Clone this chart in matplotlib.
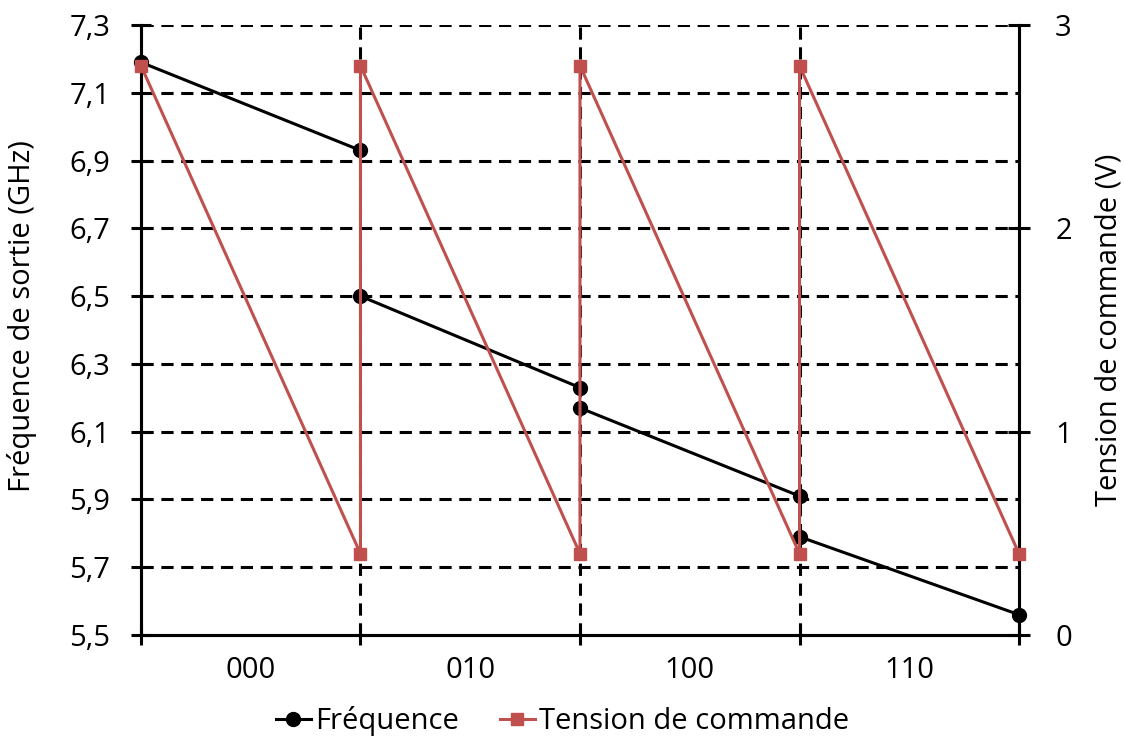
import matplotlib
matplotlib.use("Agg")
import matplotlib.pyplot as plt
from matplotlib.ticker import FixedLocator, FuncFormatter

plt.rcParams['font.family'] = ['Open Sans', 'DejaVu Sans']

# données
categories = ["000", "010", "100", "110"]
freq_x = [0, 1, 1, 2, 2, 3, 3, 4]
freq_y = [7.19, 6.93, 6.50, 6.23, 6.17, 5.91, 5.79, 5.56]
tens_x = [0, 1, 1, 2, 2, 3, 3, 4]
tens_y = [2.8, 0.4, 2.8, 0.4, 2.8, 0.4, 2.8, 0.4]
left_ticks = [5.5, 5.7, 5.9, 6.1, 6.3, 6.5, 6.7, 6.9, 7.1, 7.3]
right_ticks = [0, 1, 2, 3]

RED = "#C0504D"
FS = 21
DASH = (0, (4, 2.5))

fig = plt.figure(figsize=(11.25, 7.36), dpi=100)
ax = fig.add_axes([0.1253, 0.1372, 0.7805, 0.8288])
ax2 = ax.twinx()

ax.set_xlim(0, 4)
ax.set_ylim(5.5, 7.3)
ax2.set_ylim(0, 3)

# grille
for y in left_ticks[1:]:
    ax.axhline(y, color="black", lw=2.2, ls=DASH, zorder=1)
for x in [1, 2, 3]:
    ax.axvline(x, color="black", lw=2.2, ls=DASH, zorder=1)

# fréquence : segments par paire (les sauts verticaux sont cachés sous la tension)
for i in range(0, len(freq_x), 2):
    ax.plot(freq_x[i:i + 2], freq_y[i:i + 2], color="black", lw=2.2,
            marker="o", ms=10, zorder=3, clip_on=False,
            label="Fréquence" if i == 0 else None)
ax2.plot(tens_x, tens_y, color=RED, lw=2.2, marker="s", ms=9, zorder=3,
         clip_on=False, label="Tension de commande")
ax.set_zorder(2)
ax.patch.set_visible(False)
ax2.set_zorder(3)

for a in (ax, ax2):
    for s in a.spines.values():
        s.set_linewidth(2.2)
    a.spines["top"].set_visible(False)

ax.set_yticks(left_ticks)
ax.yaxis.set_major_formatter(FuncFormatter(lambda v, p: f"{v:.1f}".replace(".", ",")))
ax2.set_yticks(right_ticks)

ax.set_xticks([0, 1, 2, 3, 4])
ax.set_xticklabels([])
ax.xaxis.set_minor_locator(FixedLocator([0.5, 1.5, 2.5, 3.5]))
ax.set_xticklabels(categories, minor=True)
ax.tick_params(axis="x", which="minor", length=0, pad=15, labelsize=FS)
ax.tick_params(axis="x", which="major", length=14, width=2.2, direction="inout")
ax.tick_params(axis="y", length=14, width=2.2, direction="inout", labelsize=FS, pad=15)
ax2.tick_params(axis="y", length=16, width=2.2, direction="inout", labelsize=FS, pad=18)

ax.set_ylabel("Fréquence de sortie (GHz)", fontsize=FS)
ax.yaxis.set_label_coords(-0.118, 0.523)
ax2.set_ylabel("Tension de commande (V)", fontsize=FS, labelpad=16)

h1, l1 = ax.get_legend_handles_labels()
h2, l2 = ax2.get_legend_handles_labels()
fig.legend(h1 + h2, l1 + l2, loc="center", bbox_to_anchor=(0.5, 0.02),
           ncol=2, frameon=False, fontsize=FS, handlelength=1.2,
           handletextpad=0.15, columnspacing=1.4, borderpad=0)

fig.savefig("out.png", dpi=100)
